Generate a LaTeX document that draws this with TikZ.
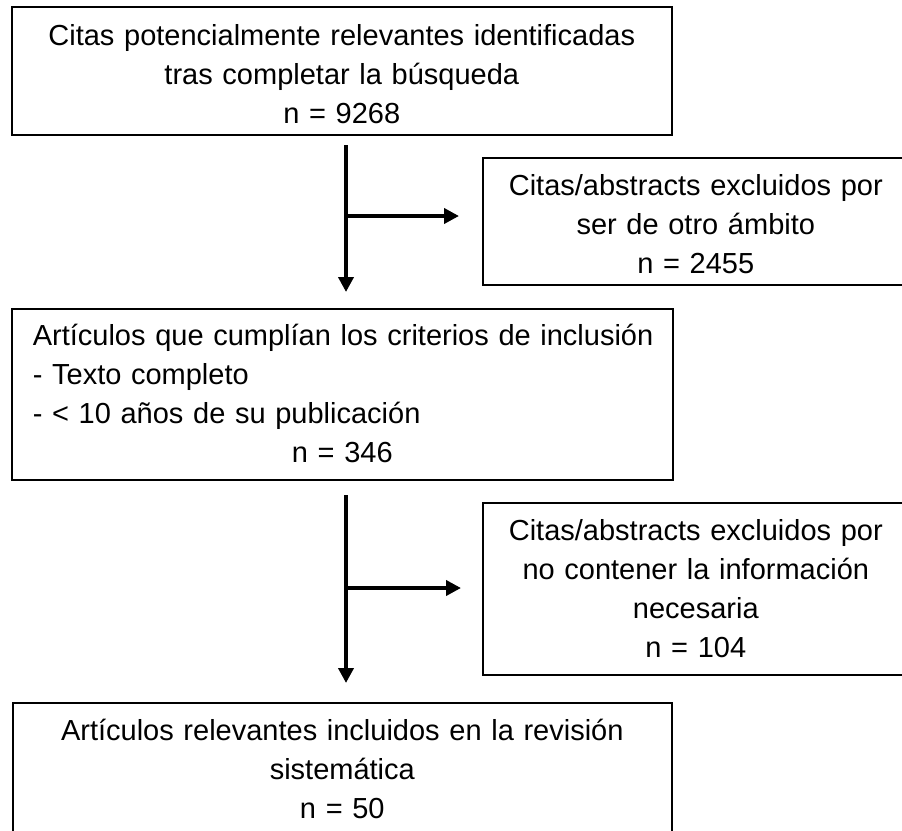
\documentclass[tikz,border=0pt]{standalone}
\usepackage{fontspec}
\setmainfont{Liberation Sans}
\usetikzlibrary{arrows.meta}
\newcommand{\tstrut}[1]{\rule{0pt}{#1pt}}
\newcommand{\bstrut}[1]{\rule[-#1pt]{0pt}{#1pt}}
\tikzset{
  flowbox/.style={draw=black, line width=1.6pt, rectangle, anchor=north west,
    inner xsep=0pt, inner ysep=0pt, align=center,
    font=\fontsize{29}{39}\selectfont},
  leftbox/.style={flowbox, align=left, inner xsep=21pt},
  flowarrow/.style={line width=4pt, -{Triangle[width=15pt,length=15pt]}}
}
\begin{document}
\begin{tikzpicture}[x=1pt,y=-1pt]
\useasboundingbox (0,0) rectangle (902,830);
\clip (0,0) rectangle (902,830);
\node[flowbox, text width=660pt] (b1) at (11,6)
  {\tstrut{39}Citas potencialmente relevantes identificadas\\tras completar la búsqueda\\n = 9268\bstrut{11}};
\node[flowbox, text width=426pt] (b2) at (482,157)
  {\tstrut{38}Citas/abstracts excluidos por\\ser de otro ámbito\\n = 2455\bstrut{11}};
\node[leftbox, text width=619pt] (b3) at (11,308)
  {\tstrut{37}\mbox{Artículos que cumplían los criterios de inclusión}\\\mbox{- Texto completo}\\\mbox{- < 10 años de su publicación}\\\hspace*{\fill}n = 346\hspace*{\fill}\bstrut{17}};
\node[flowbox, text width=426pt] (b4) at (482,502)
  {\tstrut{38}Citas/abstracts excluidos por\\no contener la información\\necesaria\\n = 104\bstrut{17}};
\node[flowbox, text width=659pt] (b5) at (12,702)
  {\tstrut{38}Artículos relevantes incluidos en la revisión\\sistemática\\n = 50\bstrut{13}};
\coordinate (a1s) at (346,145);
\coordinate (a1e) at (346,292);
\coordinate (a1m) at (346,216);
\coordinate (a1r) at (459,216);
\coordinate (a2s) at (346,495);
\coordinate (a2e) at (346,683);
\coordinate (a2m) at (346,588);
\coordinate (a2r) at (461,588);
\draw[flowarrow] (a1s) -- (a1e);
\draw[flowarrow] (a1m) -- (a1r);
\draw[flowarrow] (a2s) -- (a2e);
\draw[flowarrow] (a2m) -- (a2r);
\end{tikzpicture}
\end{document}
